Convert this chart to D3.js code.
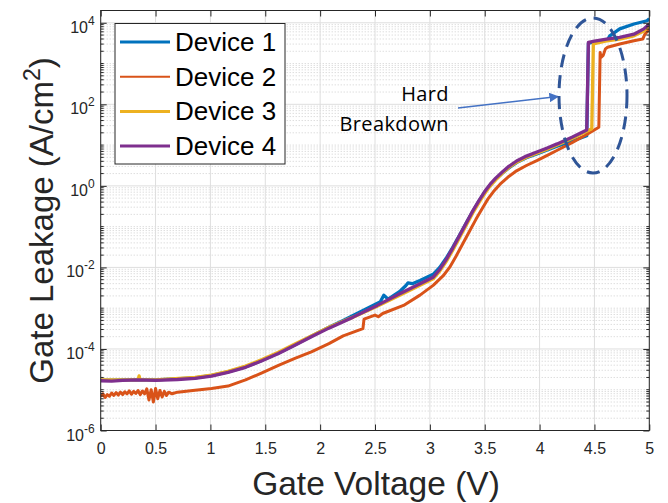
<!DOCTYPE html>
<html>
<head>
<meta charset="utf-8">
<script src="https://cdn.jsdelivr.net/npm/d3@7.9.0/dist/d3.min.js"></script>
<style>
  body { margin: 0; background: #fff; }
  svg { display: block; }
</style>
</head>
<body>
<svg id="chart" width="668" height="503"></svg>
<script>
// values (V, A/cm^2)
const dev1V = [0, 0.2, 0.5, 0.86, 1.01, 1.16, 1.32, 1.47, 1.62, 1.77, 1.92, 2.08, 2.21, 2.30, 2.45, 2.55, 2.58, 2.62, 2.73, 2.78, 2.80, 2.84, 2.91, 3.03, 3.09, 3.15, 3.21, 3.27, 3.33, 3.39, 3.45, 3.50, 3.55, 3.60, 3.66, 3.72, 3.79, 3.88, 3.975, 4.07, 4.16, 4.30, 4.43, 4.445, 4.55, 4.62, 4.64, 4.73, 4.86, 4.98, 5.0];
const dev1J = [1.70e-5, 1.74e-5, 1.74e-5, 1.95e-5, 2.24e-5, 2.75e-5, 3.63e-5, 5.25e-5, 7.94e-5, 1.26e-4, 2.04e-4, 3.39e-4, 5.01e-4, 6.61e-4, 1.05e-3, 1.45e-3, 2.09e-3, 1.66e-3, 2.63e-3, 3.55e-3, 4.17e-3, 3.98e-3, 4.79e-3, 6.76e-3, 1.0e-2, 1.70e-2, 3.16e-2, 6.17e-2, 0.12, 0.234, 0.437, 0.708, 1.05, 1.45, 2.04, 2.75, 3.72, 4.9, 6.03, 7.59, 9.33, 12.6, 17.0, 3162, 3548, 3802, 4786, 7079, 9333, 11220, 12590];

const dev2V = [0, 0.02, 0.04, 0.06, 0.08, 0.10, 0.12, 0.14, 0.16, 0.18, 0.20, 0.22, 0.24, 0.26, 0.28, 0.30, 0.32, 0.34, 0.36, 0.38, 0.40, 0.42, 0.44, 0.46, 0.48, 0.50, 0.52, 0.54, 0.56, 0.58, 0.60, 0.62, 0.65, 0.70, 0.86, 1.01, 1.16, 1.32, 1.47, 1.62, 1.77, 1.92, 2.08, 2.21, 2.39, 2.40, 2.50, 2.53, 2.57, 2.76, 2.91, 3.03, 3.12, 3.18, 3.24, 3.30, 3.36, 3.42, 3.48, 3.53, 3.58, 3.64, 3.71, 3.79, 3.88, 3.975, 4.07, 4.157, 4.30, 4.43, 4.54, 4.552, 4.56, 4.58, 4.60, 4.62, 4.73, 4.86, 4.94, 4.96, 5.0];
const dev2J = [6.76e-6, 7.94e-6, 6.46e-6, 7.59e-6, 6.92e-6, 8.32e-6, 7.24e-6, 8.51e-6, 7.41e-6, 8.71e-6, 7.59e-6, 8.91e-6, 7.94e-6, 9.33e-6, 7.76e-6, 9.12e-6, 8.13e-6, 9.55e-6, 7.59e-6, 9.33e-6, 7.94e-6, 1.05e-5, 5.62e-6, 1.0e-5, 5.01e-6, 1.07e-5, 6.03e-6, 9.55e-6, 6.61e-6, 9.12e-6, 7.24e-6, 8.71e-6, 7.94e-6, 8.71e-6, 9.77e-6, 1.07e-5, 1.23e-5, 1.74e-5, 2.6e-5, 3.98e-5, 5.89e-5, 8.51e-5, 1.35e-4, 2.1e-4, 3.16e-4, 5.37e-4, 6.76e-4, 6.17e-4, 7.41e-4, 1.17e-3, 2.09e-3, 3.63e-3, 6.17e-3, 1.0e-2, 1.91e-2, 3.8e-2, 7.59e-2, 0.151, 0.288, 0.479, 0.724, 1.10, 1.62, 2.34, 3.16, 4.17, 5.62, 7.36, 11.7, 18.2, 27.5, 1862, 1413, 1585, 2291, 2512, 3020, 3631, 3981, 5248, 7079];

const dev3V = [0, 0.34, 0.35, 0.36, 0.5, 0.86, 1.01, 1.16, 1.32, 1.47, 1.62, 1.77, 1.92, 2.08, 2.21, 2.30, 2.52, 2.73, 2.91, 3.03, 3.09, 3.15, 3.21, 3.27, 3.33, 3.39, 3.45, 3.50, 3.55, 3.60, 3.66, 3.72, 3.79, 3.88, 3.975, 4.07, 4.16, 4.30, 4.476, 4.49, 4.6, 4.73, 4.86, 4.95, 5.0];
const dev3J = [1.74e-5, 1.74e-5, 2.19e-5, 1.74e-5, 1.74e-5, 2.0e-5, 2.29e-5, 2.82e-5, 3.8e-5, 5.5e-5, 8.3e-5, 1.32e-4, 2.09e-4, 3.39e-4, 4.79e-4, 6.03e-4, 1.12e-3, 2.09e-3, 3.63e-3, 5.25e-3, 8.13e-3, 1.41e-2, 2.69e-2, 5.37e-2, 0.107, 0.214, 0.398, 0.646, 1.0, 1.41, 2.04, 2.82, 3.8, 5.01, 6.31, 7.94, 10, 14.8, 25.1, 3020, 3548, 3981, 4786, 6310, 8511];

const dev4V = [0, 0.1, 0.2, 0.34, 0.5, 0.7, 0.86, 1.01, 1.16, 1.32, 1.47, 1.62, 1.77, 1.92, 2.08, 2.21, 2.30, 2.52, 2.73, 2.91, 3.03, 3.09, 3.15, 3.21, 3.27, 3.33, 3.39, 3.45, 3.50, 3.55, 3.60, 3.66, 3.72, 3.79, 3.88, 3.975, 4.07, 4.16, 4.30, 4.43, 4.445, 4.5, 4.61, 4.73, 4.86, 4.95, 5.0];
const dev4J = [1.66e-5, 1.62e-5, 1.70e-5, 1.74e-5, 1.70e-5, 1.78e-5, 1.9e-5, 2.16e-5, 2.66e-5, 3.55e-5, 5.13e-5, 7.76e-5, 1.23e-4, 2.0e-4, 3.24e-4, 4.68e-4, 6.03e-4, 1.17e-3, 2.29e-3, 3.98e-3, 5.75e-3, 8.91e-3, 1.58e-2, 3.02e-2, 6.03e-2, 0.12, 0.24, 0.447, 0.724, 1.10, 1.55, 2.19, 3.02, 4.07, 5.37, 6.76, 8.51, 10.7, 15.8, 23.4, 3311, 3548, 3981, 4365, 5248, 7079, 9333];

const deviceNames = ["Device 1", "Device 2", "Device 3", "Device 4"];
const deviceColors = ["#0072BD", "#D95319", "#EDB120", "#7E2F8E"];
const xTicks = [0, 0.5, 1, 1.5, 2, 2.5, 3, 3.5, 4, 4.5, 5];
const yTickExps = [-6, -4, -2, 0, 2, 4];

const devices = [
  { v: dev1V, j: dev1J }, { v: dev2V, j: dev2J },
  { v: dev3V, j: dev3J }, { v: dev4V, j: dev4J }
];

const plotL = 100.7, plotR = 649.3, plotT = 10.5, plotB = 430.5;
const x = d3.scaleLinear().domain([0, 5]).range([plotL, plotR]);
const y = d3.scaleLog().domain([1e-6, 2e4]).range([plotB, plotT]);

const svg = d3.select("#chart");
const axisColor = "#262626";
const defs = svg.append("defs");

defs.append("clipPath").attr("id", "plotclip")
  .append("rect").attr("x", plotL).attr("y", plotT)
  .attr("width", plotR - plotL).attr("height", plotB - plotT);

// minor grid (log)
let minorVals = [];
for (let e = -6; e <= 4; e++) {
  for (let m = 1; m <= 9; m++) {
    const val = m * Math.pow(10, e);
    if (val > 2e4) continue;
    if (m === 1 && yTickExps.includes(e)) continue;
    minorVals.push(val);
  }
}
svg.append("g").selectAll("line").data(minorVals).join("line")
  .attr("x1", plotL).attr("x2", plotR)
  .attr("y1", d => y(d)).attr("y2", d => y(d))
  .attr("stroke", "#cfcfcf").attr("stroke-width", 1)
  .attr("stroke-dasharray", "1,2");

// major grid
svg.append("g").selectAll("line").data(xTicks).join("line")
  .attr("x1", d => x(d)).attr("x2", d => x(d))
  .attr("y1", plotT).attr("y2", plotB)
  .attr("stroke", "#dedede").attr("stroke-width", 1);
svg.append("g").selectAll("line").data(yTickExps).join("line")
  .attr("x1", plotL).attr("x2", plotR)
  .attr("y1", d => y(Math.pow(10, d))).attr("y2", d => y(Math.pow(10, d)))
  .attr("stroke", "#dedede").attr("stroke-width", 1);

// data lines
const line = d3.line().x(d => x(d[0])).y(d => y(d[1]));
const plot = svg.append("g").attr("clip-path", "url(#plotclip)");
devices.forEach((dv, i) => {
  const pts = dv.v.map((v, k) => [v, dv.j[k]]);
  plot.append("path")
    .datum(pts)
    .attr("d", line)
    .attr("fill", "none")
    .attr("stroke", deviceColors[i])
    .attr("stroke-width", i === 1 ? 3 : 3.3)
    .attr("stroke-linejoin", "round");
});

// axes box + ticks
const gx = svg.append("g").attr("transform", `translate(0,${plotB})`)
  .call(d3.axisBottom(x).tickValues(xTicks).tickSizeInner(-6).tickSizeOuter(0)
    .tickFormat(d3.format("")).tickPadding(12));
const gxTop = svg.append("g").attr("transform", `translate(0,${plotT})`)
  .call(d3.axisTop(x).tickValues(xTicks).tickSizeInner(-6).tickSizeOuter(0).tickFormat(""));
const gy = svg.append("g").attr("transform", `translate(${plotL},0)`)
  .call(d3.axisLeft(y).tickValues(yTickExps.map(e => Math.pow(10, e)))
    .tickSizeInner(-6).tickSizeOuter(0).tickFormat(""));
const gyR = svg.append("g").attr("transform", `translate(${plotR},0)`)
  .call(d3.axisRight(y).tickValues(yTickExps.map(e => Math.pow(10, e)))
    .tickSizeInner(-6).tickSizeOuter(0).tickFormat(""));
[gx, gxTop, gy, gyR].forEach(g => {
  g.select(".domain").remove();
  g.selectAll("line").attr("stroke", axisColor);
});
gx.selectAll("text").attr("fill", axisColor)
  .style("font-family", "'Liberation Sans', Arial, sans-serif").style("font-size", "16px");

// minor y ticks
[plotL, plotR].forEach(xx => {
  svg.append("g").selectAll("line").data(minorVals).join("line")
    .attr("x1", xx).attr("x2", xx === plotL ? xx + 3 : xx - 3)
    .attr("y1", d => y(d)).attr("y2", d => y(d))
    .attr("stroke", axisColor).attr("stroke-width", 1);
});

svg.append("rect").attr("x", plotL).attr("y", plotT)
  .attr("width", plotR - plotL).attr("height", plotB - plotT)
  .attr("fill", "none").attr("stroke", axisColor).attr("stroke-width", 1);

// y tick labels 10^n
const yl = svg.append("g").selectAll("text").data(yTickExps).join("text")
  .attr("x", plotL - 6).attr("y", d => y(Math.pow(10, d)) + 10)
  .attr("text-anchor", "end").attr("fill", axisColor)
  .style("font-family", "'Liberation Sans', Arial, sans-serif").style("font-size", "16px");
yl.append("tspan").text("10");
yl.append("tspan").attr("dy", -8).style("font-size", "12px").text(d => d);

// axis labels
svg.append("text").attr("x", (plotL + plotR) / 2 + 1).attr("y", 495)
  .attr("text-anchor", "middle").attr("fill", axisColor)
  .style("font-family", "'Liberation Sans', Arial, sans-serif").style("font-size", "33.5px")
  .text("Gate Voltage (V)");
const ylab = svg.append("text")
  .attr("transform", `translate(53,${(plotT + plotB) / 2}) rotate(-90)`)
  .attr("text-anchor", "middle").attr("fill", axisColor)
  .style("font-family", "'Liberation Sans', Arial, sans-serif").style("font-size", "33px");
ylab.append("tspan").text("Gate Leakage (A/cm");
ylab.append("tspan").attr("dy", -13).style("font-size", "23px").text("2");
ylab.append("tspan").attr("dy", 13).text(")");

// legend
const lg = svg.append("g");
lg.append("rect").attr("x", 115).attr("y", 23.5).attr("width", 170).attr("height", 140.5)
  .attr("fill", "#fff").attr("stroke", axisColor).attr("stroke-width", 1);
deviceNames.forEach((name, i) => {
  const yy = 42 + i * 34.7;
  lg.append("line").attr("x1", 120).attr("x2", 170).attr("y1", yy).attr("y2", yy)
    .attr("stroke", deviceColors[i]).attr("stroke-width", i === 1 ? 2 : 3);
  lg.append("text").attr("x", 175).attr("y", yy + 9)
    .attr("fill", "#000")
    .style("font-family", "'Liberation Sans', Arial, sans-serif").style("font-size", "26px")
    .text(name);
});

// annotation
defs.append("marker").attr("id", "arrowhead")
  .attr("viewBox", "0 0 10 10").attr("refX", 9).attr("refY", 5)
  .attr("markerWidth", 6).attr("markerHeight", 6).attr("orient", "auto")
  .append("path").attr("d", "M0,0 L10,5 L0,10 z").attr("fill", "#4472C4");
svg.append("line").attr("x1", 458).attr("y1", 108).attr("x2", 558).attr("y2", 96.5)
  .attr("stroke", "#4472C4").attr("stroke-width", 1.6).attr("marker-end", "url(#arrowhead)");
svg.append("ellipse").attr("cx", 593).attr("cy", 95.5).attr("rx", 34).attr("ry", 77.5)
  .attr("fill", "none").attr("stroke", "#2F5597").attr("stroke-width", 3)
  .attr("stroke-dasharray", "13,8");
const ann = svg.append("text").attr("text-anchor", "end").attr("fill", "#000")
  .style("font-family", "'Open Sans', sans-serif").style("font-size", "20px")
  .style("letter-spacing", "0.4px");
ann.append("tspan").attr("x", 449).attr("y", 101).text("Hard");
ann.append("tspan").attr("x", 449).attr("y", 131).text("Breakdown");
</script>
</body>
</html>
